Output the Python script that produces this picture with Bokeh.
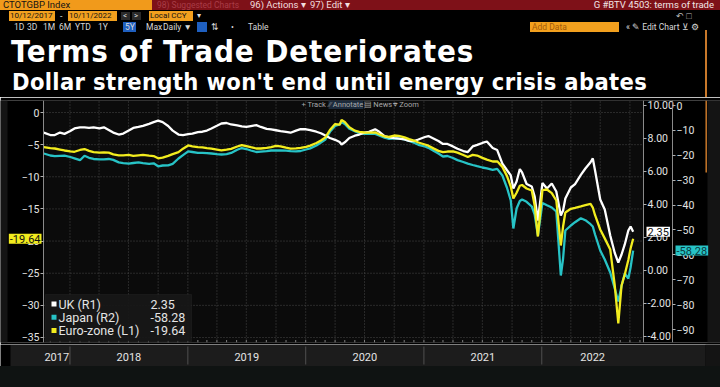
import pandas as pd
from bokeh.plotting import figure
from bokeh.layouts import column
from bokeh.models import (Range1d, LinearAxis, FixedTicker, NumeralTickFormatter,
                          Label, BoxAnnotation, Div)
from bokeh.core.properties import value
from bokeh.embed import file_html
from bokeh.resources import INLINE

# ---------------- data ----------------
dates = [
    "2017-10-12", "2017-11-01", "2017-11-15", "2017-12-01", "2017-12-15",
    "2018-01-02", "2018-01-15", "2018-02-01", "2018-02-15", "2018-03-01", "2018-03-15",
    "2018-04-02", "2018-04-16", "2018-05-01", "2018-05-15", "2018-06-01", "2018-06-15",
    "2018-07-02", "2018-07-16", "2018-08-01", "2018-08-15", "2018-09-03", "2018-09-17",
    "2018-10-01", "2018-10-15", "2018-11-01", "2018-11-15", "2018-12-03", "2018-12-17",
    "2019-01-02", "2019-01-15", "2019-02-01", "2019-02-15", "2019-03-01", "2019-03-15",
    "2019-04-01", "2019-04-15", "2019-05-01", "2019-05-15", "2019-06-03", "2019-06-17",
    "2019-07-01", "2019-07-15", "2019-08-01", "2019-08-15", "2019-09-02", "2019-09-16",
    "2019-10-01", "2019-10-15", "2019-11-01", "2019-11-15", "2019-12-02", "2019-12-16",
    "2020-01-02", "2020-01-15", "2020-02-03", "2020-02-17", "2020-03-02", "2020-03-16",
    "2020-04-01", "2020-04-15", "2020-04-21", "2020-05-01", "2020-05-15", "2020-06-01",
    "2020-06-15", "2020-07-01", "2020-07-15", "2020-08-03", "2020-08-17", "2020-09-01",
    "2020-09-15", "2020-10-01", "2020-10-15", "2020-11-02", "2020-11-16", "2020-12-01",
    "2020-12-15", "2021-01-04", "2021-01-15", "2021-02-01", "2021-02-15", "2021-03-01",
    "2021-03-15", "2021-04-01", "2021-04-15", "2021-05-03", "2021-05-17", "2021-06-01",
    "2021-06-15", "2021-07-01", "2021-07-15", "2021-08-02", "2021-08-16", "2021-09-01",
    "2021-09-15", "2021-09-27", "2021-10-05", "2021-10-15", "2021-10-25", "2021-11-01",
    "2021-11-15", "2021-12-01", "2021-12-10", "2021-12-20", "2022-01-03", "2022-01-17",
    "2022-02-01", "2022-02-15", "2022-03-01", "2022-03-08", "2022-03-15", "2022-04-01",
    "2022-04-14", "2022-05-02", "2022-05-16", "2022-06-01", "2022-06-08", "2022-06-15",
    "2022-07-01", "2022-07-15", "2022-08-01", "2022-08-15", "2022-08-26", "2022-09-05",
    "2022-09-15", "2022-09-26", "2022-10-03", "2022-10-11",
]
uk_r1 = [
    8.36, 8.21, 8.21, 8.36, 8.28,
    8.45, 8.61, 8.68, 8.67, 8.65, 8.68,
    8.61, 8.68, 8.52, 8.36, 8.24, 8.30,
    8.48, 8.64, 8.70, 8.77, 8.89, 8.99,
    9.08, 8.99, 8.76, 8.48, 8.24, 8.21,
    8.26, 8.30, 8.39, 8.41, 8.48, 8.61,
    8.77, 8.91, 8.94, 8.85, 8.79, 8.73,
    8.70, 8.75, 8.81, 8.70, 8.58, 8.55,
    8.50, 8.45, 8.40, 8.35, 8.48, 8.57,
    8.56, 8.51, 8.41, 8.32, 8.18, 8.03,
    7.92, 7.79, 7.64, 7.77, 8.03, 8.17,
    8.24, 8.35, 8.40, 8.56, 8.39, 8.15,
    8.07, 8.02, 7.99, 7.95, 7.86, 7.84,
    7.94, 8.09, 8.15, 7.99, 7.85, 7.67,
    7.67, 7.52, 7.38, 7.24, 7.18, 7.52,
    7.61, 7.73, 7.82, 7.42, 7.30, 6.48,
    6.09, 5.76, 4.97, 5.39, 6.15, 5.94,
    5.24, 5.09, 4.48, 3.03, 5.30, 4.97,
    5.27, 4.79, 3.33, 3.64, 4.36, 5.03,
    5.24, 5.79, 6.18, 6.56, 6.79, 6.06,
    4.30, 3.70, 2.12, 1.06, 0.48, 0.97,
    1.58, 2.42, 2.67, 2.35,
]
japan_r2 = [
    -19.29, -20.09, -20.33, -20.21, -20.13,
    -20.69, -21.21, -21.98, -20.17, -21.01, -21.49,
    -21.66, -21.62, -21.49, -21.86, -22.86, -23.14,
    -23.38, -23.10, -22.86, -23.14, -23.42, -23.22,
    -24.43, -24.11, -24.03, -23.42, -21.29, -19.93,
    -18.44, -18.68, -19.00, -19.00, -19.12, -19.29,
    -19.53, -19.69, -19.53, -19.08, -17.76, -17.08,
    -17.48, -18.08, -18.68, -18.52, -18.32, -18.08,
    -18.08, -18.08, -18.12, -18.32, -18.44, -18.28,
    -17.68, -17.24, -16.07, -14.87, -13.66, -10.57,
    -8.24, -7.63, -6.63, -7.43, -9.36, -10.29,
    -11.09, -11.37, -11.37, -11.41, -12.13, -12.90,
    -13.38, -13.26, -13.18, -13.62, -14.26, -14.95,
    -15.79, -16.47, -17.00, -18.24, -19.29, -20.49,
    -20.29, -21.09, -21.94, -22.70, -23.38, -23.91,
    -24.39, -24.91, -25.27, -25.83, -25.47, -28.12,
    -32.95, -38.17, -49.42, -41.38, -38.37, -37.77,
    -38.69, -40.58, -43.79, -52.23, -39.13, -40.10,
    -40.98, -42.59, -68.30, -61.47, -50.22, -48.21,
    -46.89, -45.28, -46.08, -47.69, -48.61, -51.83,
    -58.26, -61.87, -67.10, -73.52, -78.75, -72.52,
    -67.50, -69.51, -65.09, -58.28,
]
euro_l1 = [
    -5.37, -5.54, -5.60, -5.76, -5.91,
    -6.04, -6.11, -5.83, -5.68, -5.96, -6.16,
    -6.24, -6.22, -6.25, -6.52, -6.66, -6.67,
    -6.60, -6.75, -6.66, -6.60, -6.70, -6.77,
    -7.12, -7.03, -6.74, -6.47, -6.16, -5.63,
    -5.12, -5.26, -5.40, -5.43, -5.54, -5.62,
    -5.77, -5.90, -5.77, -5.65, -5.29, -5.07,
    -5.23, -5.40, -5.60, -5.60, -5.51, -5.40,
    -5.20, -5.26, -5.48, -5.63, -5.58, -5.49,
    -5.34, -5.15, -4.74, -4.36, -3.87, -2.72,
    -1.80, -1.90, -1.17, -1.48, -2.29, -2.82,
    -3.00, -3.11, -3.14, -3.08, -3.42, -3.72,
    -3.80, -3.58, -3.64, -3.87, -4.14, -4.36,
    -4.67, -4.98, -5.16, -5.62, -5.97, -6.16,
    -6.07, -6.04, -6.25, -6.61, -6.92, -6.60,
    -6.70, -7.06, -7.34, -7.62, -7.59, -8.46,
    -9.86, -11.51, -13.38, -12.48, -11.40, -11.28,
    -11.82, -12.13, -14.47, -19.29, -12.06, -11.98,
    -12.55, -13.69, -20.69, -17.73, -15.56, -14.98,
    -14.82, -14.59, -14.40, -14.22, -14.78, -15.98,
    -18.20, -19.58, -21.31, -26.91, -32.82, -26.91,
    -25.20, -22.94, -21.16, -19.64,
]
series_names = ["UK  (R1)", "Japan  (R2)", "Euro-zone  (L1)"]
left_ticks = [0, -5, -10, -15, -20, -25, -30, -35]
r1_ticks = [10, 8, 6, 4, 2, 0, -2, -4]
r2_ticks = [0, -10, -20, -30, -40, -50, -60, -70, -80, -90]
years = ["2017", "2018", "2019", "2020", "2021", "2022"]

title = "Terms of Trade Deteriorates"
subtitle = "Dollar strength won't end until energy crisis abates"

# ---------------- colours / geometry ----------------
WHITE, TEAL, YELLOW = "#ffffff", "#27c3c6", "#f2ec1e"
AXC, TXT = "#8a8a8a", "#e4e4e4"
FONT = "Roboto"
W = 720
HEAD_H = 97
FL, FR, FT, FB = 43.0, 643.0, 100.0, 342.0      # plot-area edges, page px
R2X = 672.0                                     # second right axis, page px
X0 = pd.Timestamp("2017-10-11").value / 1e6
X1 = pd.Timestamp("2022-11-12").value / 1e6
MSPX = (X1 - X0) / (FR - FL)
L_RANGE = (-35.778, 1.867)
R1_RANGE = (-4.364, 10.303)
R2_RANGE = (-95.223, 2.009)


def px(xref):
    return X0 + (xref - FL) * MSPX


def yl(yref):
    return L_RANGE[1] - (yref - FT) * (L_RANGE[1] - L_RANGE[0]) / (FB - FT)


def ms(d):
    return pd.Timestamp(d).value / 1e6


xs = [ms(d) for d in dates]

# ---------------- header (terminal bars + titles) ----------------
def box(x, y, w, h, bg):
    return (f'<div style="position:absolute;left:{x}px;top:{y}px;width:{w}px;'
            f'height:{h}px;background:{bg};"></div>')


def txt(x, y, h, s, size, color, w=None, align="left", extra=""):
    wd = f"width:{w}px;" if w else ""
    return (f'<div style="position:absolute;left:{x}px;top:{y}px;{wd}height:{h}px;'
            f'line-height:{h}px;font-size:{size}px;color:{color};text-align:{align};'
            f'white-space:nowrap;font-family:Roboto;{extra}">{s}</div>')


parts = [
    box(0, 0, 152, 10, "#f19a1b"), box(152, 0, 568, 10, "#7e1118"),
    txt(3, 0, 10, "CTOTGBP Index", 9.5, "#141414"),
    txt(157, 0, 10, "98) Suggested Charts", 8.5, "#a83c47"),
    txt(250, 0, 10, "96) Actions &#9662;", 9.5, "#f2dede"),
    txt(310, 0, 10, "97) Edit &#9662;", 9.5, "#f2dede"),
    txt(480, 0, 10, "G #BTV 4503: terms of trade", 9.5, "#f2e6e6", w=234, align="right"),
    box(9, 11, 46, 10, "#f2a01e"), box(68, 11, 49, 10, "#f2a01e"),
    box(149, 11, 44, 10, "#f2a01e"),
    box(121, 12, 9, 8, "#2a2a2a"), box(132, 12, 9, 8, "#2a2a2a"),
    txt(10, 11, 10, "10/12/2017", 8, "#141414"),
    txt(69, 11, 10, "10/11/2022", 8, "#141414"),
    txt(150, 11, 10, "Local CCY", 8, "#141414"),
    txt(60, 11, 10, "-", 9, "#dddddd"),
    txt(123, 11, 10, "&lt;", 8, "#dddddd"), txt(134, 11, 10, "&gt;", 8, "#dddddd"),
    txt(197, 11, 10, "&#9662;", 8, "#dddddd"),
    txt(676, 11, 10, "&#8630; &#9633;", 9, "#bbbbbb"),
    box(123, 22, 13, 10, "#1f5fbf"), box(197, 22, 10, 10, "#1f5fbf"),
    box(530, 22, 89, 10, "#f2a01e"),
    txt(532, 22, 10, "Add Data", 8.5, "#a45a08"),
    txt(626, 22, 10, "&#171; &#9998; Edit Chart &#8891; &#9881;", 8.5, "#d8d8d8"),
    box(705, 30, 1.5, HEAD_H - 30, "#c8782a"),
]
for s, x in [("1D", 14), ("3D", 27), ("1M", 43), ("6M", 59), ("YTD", 75), ("1Y", 98),
             ("5Y", 125), ("Max", 146), ("Daily &#9660;", 163), ("&#8645;", 211),
             ("&#8226;", 231), ("Table", 248)]:
    parts.append(txt(x, 22, 10, s, 8.5, "#d8d8d8"))
tfont = "font-family:'DejaVu Sans Condensed','DejaVu Sans';font-weight:bold;"
parts.append(txt(11, 35.8, 31, title, 31, "#ffffff",
                 extra=tfont + "letter-spacing:0.9px;"))
parts.append(txt(12, 71.3, 23.5, subtitle, 23.5, "#ffffff",
                 extra=tfont + "letter-spacing:0.35px;"))
header_html = (f'<div style="position:relative;width:{W}px;height:{HEAD_H}px;'
               f'background:#000;overflow:hidden;">' + "".join(parts) + "</div>")
header = Div(text=header_html, width=W, height=HEAD_H,
             styles={"background-color": "#000000", "overflow": "hidden",
                     "margin": "0", "padding": "0"})

# ---------------- main chart (frame spans the full width) ----------------
p = figure(width=W, height=247, x_range=Range1d(px(0), px(W)), y_range=Range1d(*L_RANGE),
           x_axis_location=None, y_axis_location=None,
           output_backend="svg", toolbar_location=None,
           min_border_left=0, min_border_right=0, min_border_top=3, min_border_bottom=2,
           background_fill_color="#000000", border_fill_color="#000000",
           outline_line_color=None)
p.grid.visible = False
p.extra_y_ranges = {"r1": Range1d(*R1_RANGE), "r2": Range1d(*R2_RANGE)}

# plot-area background, side strips, scrollbar
p.quad(left=[X0], right=[X1], bottom=[L_RANGE[0]], top=[L_RANGE[1]],
       fill_color="#0b0b0b", line_color=None)
p.quad(left=[px(0), px(707)], right=[px(7), px(W)], bottom=[L_RANGE[0]] * 2,
       top=[L_RANGE[1]] * 2, fill_color="#141414", line_color=None)
p.segment(x0=[px(705.7)], y0=[L_RANGE[1]], x1=[px(705.7)], y1=[yl(172)],
          line_color="#c8782a", line_width=1.5)

# dotted grid inside the plot area
quarters = [ms(d) for d in pd.date_range("2018-01-01", "2022-10-01", freq="QS")]
p.segment(x0=quarters, y0=[L_RANGE[0]] * len(quarters), x1=quarters,
          y1=[L_RANGE[1]] * len(quarters), line_color="#4a4a4a", line_dash="1 2")
p.segment(x0=[X0] * len(left_ticks), y0=left_ticks, x1=[X1] * len(left_ticks),
          y1=left_ticks, line_color="#4a4a4a", line_dash="1 2")


def style_axis(ax):
    ax.axis_line_color = AXC
    ax.major_tick_line_color = "#b0b0b0"
    ax.major_tick_out = 3
    ax.major_tick_in = 0
    ax.minor_tick_line_color = None
    ax.major_label_text_color = TXT
    ax.major_label_text_font = FONT
    ax.major_label_text_font_size = "10.5px"
    ax.major_label_standoff = 1


lax = LinearAxis(fixed_location=X0, ticker=FixedTicker(ticks=left_ticks))
ax1 = LinearAxis(y_range_name="r1", fixed_location=X1, ticker=FixedTicker(ticks=r1_ticks),
                 formatter=NumeralTickFormatter(format="0.00"))
ax2 = LinearAxis(y_range_name="r2", fixed_location=px(R2X),
                 ticker=FixedTicker(ticks=r2_ticks))
for ax in (lax, ax1, ax2):
    style_axis(ax)
p.add_layout(lax, "left")
p.add_layout(ax1, "right")
p.add_layout(ax2, "right")

# monthly ticks along the bottom edge of the plot
months = [ms(d) for d in pd.date_range("2017-11-01", "2022-11-01", freq="MS")]
p.segment(x0=months, y0=[yl(342)] * len(months), x1=months, y1=[yl(339.5)] * len(months),
          line_color="#808080", line_width=1)

p.line(xs, japan_r2, y_range_name="r2", line_color=TEAL, line_width=2.3)
p.line(xs, uk_r1, y_range_name="r1", line_color=WHITE, line_width=2.3)
p.line(xs, euro_l1, line_color=YELLOW, line_width=2.3)

# tool strip
for t, xr, bg in [("+ Track", 301, None), ("\u2215\u2215 Annotate", 328, "#1c2b3d"),
                  ("\u25a4 News", 363, None), ("\u2316 Zoom", 392, None)]:
    p.add_layout(Label(x=px(xr), y=yl(104), text=t, text_font=FONT, text_font_size="7.5px",
                       text_color="#a8a8a8", text_baseline="middle",
                       background_fill_color=bg))

# legend
p.add_layout(BoxAnnotation(left=px(45), right=px(191), top=yl(294), bottom=yl(341),
                           fill_color="#171717", fill_alpha=0.95,
                           line_color="#2e2e2e", line_width=1))
last_vals = [uk_r1[-1], japan_r2[-1], euro_l1[-1]]
for i, (nm, col, v) in enumerate(zip(series_names, [WHITE, TEAL, YELLOW], last_vals)):
    yr = 303.5 + i * 13.3
    p.add_layout(BoxAnnotation(left=px(51), right=px(56), top=yl(yr - 2.5),
                               bottom=yl(yr + 2.5), fill_color=col, fill_alpha=1,
                               line_color=None))
    p.add_layout(Label(x=px(58), y=yl(yr), text=nm, text_font=FONT,
                       text_font_size="12.5px", text_color=TXT, text_baseline="middle"))
    p.add_layout(Label(x=px(150), y=yl(yr), text=f"{v:.2f}", text_font=FONT,
                       text_font_size="12.5px", text_color=TXT, text_baseline="middle"))

# last-value tags on the axes
p.add_layout(Label(x=px(41), y=euro_l1[-1], text=f"{euro_l1[-1]:.2f}", text_align="right",
                   text_baseline="middle", text_font=FONT, text_font_size="11px",
                   text_color="#111111", background_fill_color=YELLOW, padding=1))
p.add_layout(Label(x=px(646), y=uk_r1[-1], y_range_name="r1", text=f"{uk_r1[-1]:.2f}",
                   text_baseline="middle", text_font=FONT, text_font_size="11px",
                   text_color="#111111", background_fill_color=WHITE, padding=1))
p.add_layout(Label(x=px(675), y=japan_r2[-1], y_range_name="r2",
                   text=f"{japan_r2[-1]:.2f}", text_baseline="middle", text_font=FONT,
                   text_font_size="11px", text_color="#0b3a3c",
                   background_fill_color=TEAL, padding=1))

# ---------------- date band ----------------
b = figure(width=W, height=22, x_range=p.x_range, y_range=Range1d(366, 344),
           x_axis_location=None, y_axis_location=None,
           min_border_left=0, min_border_right=0, min_border_top=0, min_border_bottom=0,
           output_backend="svg", toolbar_location=None,
           background_fill_color="#000000", border_fill_color="#000000",
           outline_line_color=None)
b.grid.visible = False
b.quad(left=[px(10)], right=[px(705)], top=[344.5], bottom=[366],
       fill_color="#1c1c1c", line_color=None)
b.quad(left=[px(705)], right=[px(W)], top=[344], bottom=[366],
       fill_color="#141414", line_color=None)
ystarts = [ms(f"{y}-01-01") for y in years[1:]]
b.segment(x0=ystarts, y0=[346] * len(ystarts), x1=ystarts, y1=[364] * len(ystarts),
          line_color="#505050", line_width=1)
mids = []
for y in years:
    s = max(ms(f"{y}-01-01"), X0)
    e = min(ms(f"{int(y) + 1}-01-01"), X1)
    mids.append((s + e) / 2)
b.text(x=mids, y=[356] * len(mids), text=years, text_font=value(FONT),
       text_font_size="11px", text_color=TXT, text_align="center", text_baseline="middle")

bottom = Div(text="", width=W, height=21,
             styles={"background-color": "#0f1312", "margin": "0", "padding": "0"})

layout = column(header, p, b, bottom, spacing=0)
open("out.html", "w").write(file_html(layout, INLINE))
